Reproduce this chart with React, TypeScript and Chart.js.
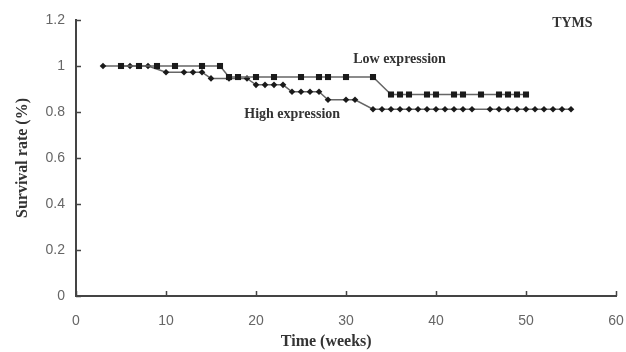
import React, { useEffect, useRef } from "react";
import { Chart, registerables } from "chart.js";

Chart.register(...registerables);

const lowWeeks = [5, 7, 9, 11, 14, 16, 17, 18, 20, 22, 25, 27, 28, 30, 33, 35, 36, 37, 39, 40, 42, 43, 45, 47, 48, 49, 50];
const lowSurvival = [1, 1, 1, 1, 1, 1, 0.952, 0.952, 0.952, 0.952, 0.952, 0.952, 0.952, 0.952, 0.952, 0.876, 0.876, 0.876, 0.876, 0.876, 0.876, 0.876, 0.876, 0.876, 0.876, 0.876, 0.876];

const highWeeks = [3, 6, 8, 10, 12, 13, 14, 15, 17, 19, 20, 21, 22, 23, 24, 25, 26, 27, 28, 30, 31, 33, 34, 35, 36, 37, 38, 39, 40, 41, 42, 43, 44, 46, 47, 48, 49, 50, 51, 52, 53, 54, 55];
const highSurvival = [1, 1, 1, 0.973, 0.973, 0.973, 0.973, 0.946, 0.946, 0.946, 0.918, 0.918, 0.918, 0.918, 0.888, 0.888, 0.888, 0.888, 0.853, 0.853, 0.853, 0.812, 0.812, 0.812, 0.812, 0.812, 0.812, 0.812, 0.812, 0.812, 0.812, 0.812, 0.812, 0.812, 0.812, 0.812, 0.812, 0.812, 0.812, 0.812, 0.812, 0.812, 0.812];

const xTicks = [0, 10, 20, 30, 40, 50, 60];
const yTicks = [0, 0.2, 0.4, 0.6, 0.8, 1, 1.2];

const seriesLabels = ["Low expression", "High expression"];
const geneLabel = "TYMS";
const xTitle = "Time (weeks)";
const yTitle = "Survival rate (%)";

export default function App() {
  const ref = useRef<HTMLCanvasElement | null>(null);

  useEffect(() => {
    if (!ref.current) return;
    const annot = {
      id: "annot",
      afterDraw(chart: any) {
        const ctx = chart.ctx;
        const xs = chart.scales.x;
        const ys = chart.scales.y;
        const area = chart.chartArea;
        ctx.save();
        ctx.strokeStyle = "#444";
        ctx.lineWidth = 1.5;
        ctx.beginPath();
        for (const v of yTicks) {
          const py = Math.round(ys.getPixelForValue(v)) + 0.5;
          ctx.moveTo(area.left, py);
          ctx.lineTo(area.left + 5, py);
        }
        for (const v of xTicks) {
          const px = Math.round(xs.getPixelForValue(v)) + 0.5;
          ctx.moveTo(px, area.bottom);
          ctx.lineTo(px, area.bottom - 5);
        }
        ctx.stroke();

        ctx.fillStyle = "#333";
        ctx.font = "bold 14px 'Liberation Serif'";
        ctx.textBaseline = "middle";
        ctx.textAlign = "left";
        ctx.fillText(seriesLabels[0], xs.getPixelForValue(30.8), ys.getPixelForValue(1.028));
        ctx.fillText(seriesLabels[1], xs.getPixelForValue(18.7), ys.getPixelForValue(0.79));
        ctx.textAlign = "right";
        ctx.fillText(geneLabel, xs.getPixelForValue(57.4), ys.getPixelForValue(1.187));

        ctx.font = "bold 16px 'Liberation Serif'";
        ctx.textAlign = "center";
        ctx.fillText(xTitle, xs.getPixelForValue(27.8), 342);
        ctx.restore();
      },
    };

    const chart = new Chart(ref.current, {
      type: "line",
      data: {
        datasets: [
          {
            label: seriesLabels[0],
            data: lowWeeks.map((w, i) => ({ x: w, y: lowSurvival[i] })),
            borderColor: "#666",
            borderWidth: 1.5,
            pointStyle: "rect",
            pointRadius: 4.3,
            pointBackgroundColor: "#1a1a1a",
            pointBorderColor: "#1a1a1a",
            pointBorderWidth: 0,
            tension: 0,
          },
          {
            label: seriesLabels[1],
            data: highWeeks.map((w, i) => ({ x: w, y: highSurvival[i] })),
            borderColor: "#666",
            borderWidth: 1.5,
            pointStyle: "rectRot",
            pointRadius: 3.3,
            pointBackgroundColor: "#1a1a1a",
            pointBorderColor: "#1a1a1a",
            pointBorderWidth: 0,
            tension: 0,
          },
        ],
      },
      options: {
        animation: false,
        responsive: false,
        maintainAspectRatio: false,
        layout: { padding: { left: 0, right: 10, top: 20, bottom: 0 } },
        plugins: { legend: { display: false }, tooltip: { enabled: false } },
        scales: {
          x: {
            type: "linear",
            min: 0,
            max: 60,
            afterBuildTicks: (s: any) => {
              s.ticks = xTicks.map((v) => ({ value: v }));
            },
            grid: { display: false, tickLength: 0 },
            border: { display: true, color: "#444", width: 2 },
            ticks: {
              color: "#666",
              font: { family: "'Liberation Sans'", size: 14 },
              padding: 17,
              maxRotation: 0,
            },
            afterFit: (s: any) => {
              s.height = 56;
              s.paddingLeft = 0;
              s.paddingRight = 0;
            },
          },
          y: {
            type: "linear",
            min: 0,
            max: 1.2,
            afterBuildTicks: (s: any) => {
              s.ticks = yTicks.map((v) => ({ value: v }));
            },
            grid: { display: false, tickLength: 0 },
            border: { display: true, color: "#444", width: 2 },
            ticks: {
              color: "#666",
              font: { family: "'Liberation Sans'", size: 14 },
              padding: 11,
              callback: (v: any) => String(Number(Number(v).toFixed(1))),
            },
            title: {
              display: true,
              text: yTitle,
              color: "#333",
              font: { family: "'Liberation Serif'", size: 16, weight: "bold" },
              padding: { top: 13, bottom: 0 },
            },
            afterFit: (s: any) => {
              s.width = 76;
              s.paddingTop = 0;
              s.paddingBottom = 0;
            },
          },
        },
      },
      plugins: [annot],
    });
    return () => chart.destroy();
  }, []);

  return (
    <div style={{ position: "fixed", left: 0, top: 0, width: 626, height: 352, background: "#fff" }}>
      <canvas ref={ref} width={626} height={352} style={{ width: 626, height: 352 }} />
    </div>
  );
}
